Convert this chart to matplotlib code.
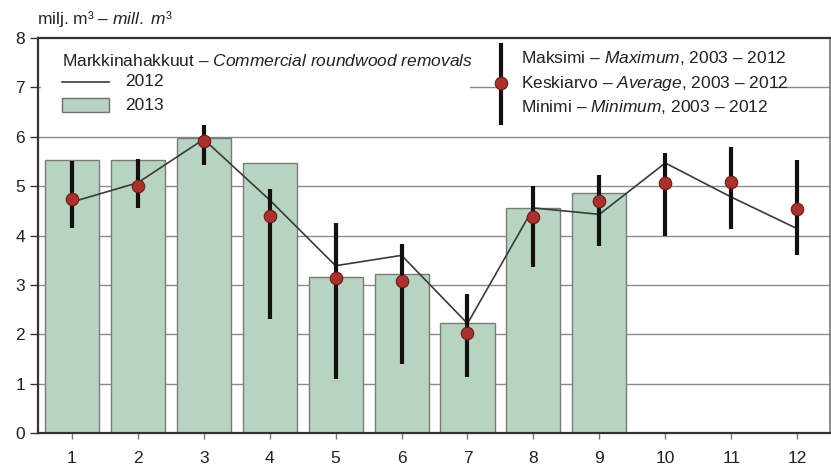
import matplotlib.pyplot as plt
from matplotlib.patches import Rectangle
from matplotlib.lines import Line2D

plt.rcParams['font.family'] = ['Liberation Sans', 'DejaVu Sans']
plt.rcParams['mathtext.fontset'] = 'custom'
plt.rcParams['mathtext.rm'] = 'Liberation Sans'
plt.rcParams['mathtext.it'] = 'Liberation Sans:italic'

months = list(range(1, 13))
removals_2013 = [5.53, 5.53, 5.97, 5.47, 3.16, 3.23, 2.24, 4.56, 4.86]
removals_2012 = [4.68, 5.07, 5.95, 4.72, 3.39, 3.60, 2.22, 4.56, 4.43, 5.47, 4.78, 4.14]
avg_0312 = [4.74, 5.01, 5.92, 4.39, 3.15, 3.08, 2.03, 4.38, 4.70, 5.07, 5.09, 4.54]
max_0312 = [5.51, 5.56, 6.30, 4.94, 4.26, 3.84, 2.81, 5.00, 5.22, 5.67, 5.80, 5.54]
min_0312 = [4.16, 4.55, 5.43, 2.31, 1.09, 1.41, 1.14, 3.37, 3.79, 3.99, 4.14, 3.60]

bar_green = '#b6d4c0'
dot_red = '#a8322d'

fig = plt.figure(figsize=(8.31, 4.75), dpi=100)
ax = fig.add_axes([0.046, 0.088, 0.953, 0.832])

# horizontal grid
for v in range(1, 8):
    ax.axhline(v, color='#8a8a8a', lw=1.0, zorder=0)

ax.bar(months[:len(removals_2013)], removals_2013, width=0.82,
       color=bar_green, edgecolor='#7a7a7a', linewidth=1.0, zorder=2)
ax.plot(months, removals_2012, color='#3a3a3a', lw=1.2, zorder=3)
ax.vlines(months, min_0312, max_0312, color='#111111', lw=3.0, zorder=4)
ax.plot(months, avg_0312, 'o', ms=9, mfc=dot_red, mec='#6e1b18', mew=0.8, zorder=5)

ax.set_xlim(0.49, 12.5)
ax.set_ylim(0, 8)
ax.set_xticks(months)
ax.set_yticks(range(0, 9))
ax.tick_params(axis='both', labelsize=12.5, colors='#333333', labelcolor='#222222')
ax.tick_params(axis='y', length=6, width=1)
ax.tick_params(axis='x', length=4, width=1, color='#777777', pad=9)

for side in ['left', 'bottom', 'top']:
    ax.spines[side].set_color('#333333')
    ax.spines[side].set_linewidth(1.6)
ax.spines['right'].set_color('#777777')
ax.spines['right'].set_linewidth(1.2)

# legend boxes (white, hide the grid)
ax.add_patch(Rectangle((0.003, 0.78), 0.542, 0.215, transform=ax.transAxes,
                       facecolor='white', edgecolor='none', zorder=6))
ax.add_patch(Rectangle((0.58, 0.78), 0.344, 0.215, transform=ax.transAxes,
                       facecolor='white', edgecolor='none', zorder=6))

fs = 12.5
ax.text(0.030, 0.942, 'Markkinahakkuut – $\\it{Commercial\\ roundwood\\ removals}$',
        transform=ax.transAxes, fontsize=fs, va='center', color='#222222', zorder=7)
ax.add_line(Line2D([0.030, 0.089], [0.889, 0.889], transform=ax.transAxes,
                   color='#3a3a3a', lw=1.2, zorder=7))
ax.text(0.110, 0.889, '2012', transform=ax.transAxes, fontsize=fs, va='center',
        color='#222222', zorder=7)
ax.add_patch(Rectangle((0.030, 0.813), 0.059, 0.035, transform=ax.transAxes,
                       facecolor=bar_green, edgecolor='#6f6f6f', lw=1.0, zorder=7))
ax.text(0.110, 0.830, '2013', transform=ax.transAxes, fontsize=fs, va='center',
        color='#222222', zorder=7)

ax.add_line(Line2D([0.584, 0.584], [0.785, 0.982], transform=ax.transAxes,
                   color='#111111', lw=3.0, zorder=7))
ax.add_line(Line2D([0.584], [0.887], transform=ax.transAxes, marker='o', ms=9,
                   mfc=dot_red, mec='#6e1b18', mew=0.8, zorder=8))
ax.text(0.610, 0.949, 'Maksimi – $\\it{Maximum}$, 2003 – 2012', transform=ax.transAxes,
        fontsize=fs, va='center', color='#222222', zorder=7)
ax.text(0.610, 0.886, 'Keskiarvo – $\\it{Average}$, 2003 – 2012', transform=ax.transAxes,
        fontsize=fs, va='center', color='#222222', zorder=7)
ax.text(0.610, 0.825, 'Minimi – $\\it{Minimum}$, 2003 – 2012', transform=ax.transAxes,
        fontsize=fs, va='center', color='#222222', zorder=7)

fig.text(0.044, 0.960, 'milj. m³ – $\\it{mill.\\ m³}$', fontsize=12.5, va='center',
         color='#222222')

fig.savefig('out.png', dpi=100)
